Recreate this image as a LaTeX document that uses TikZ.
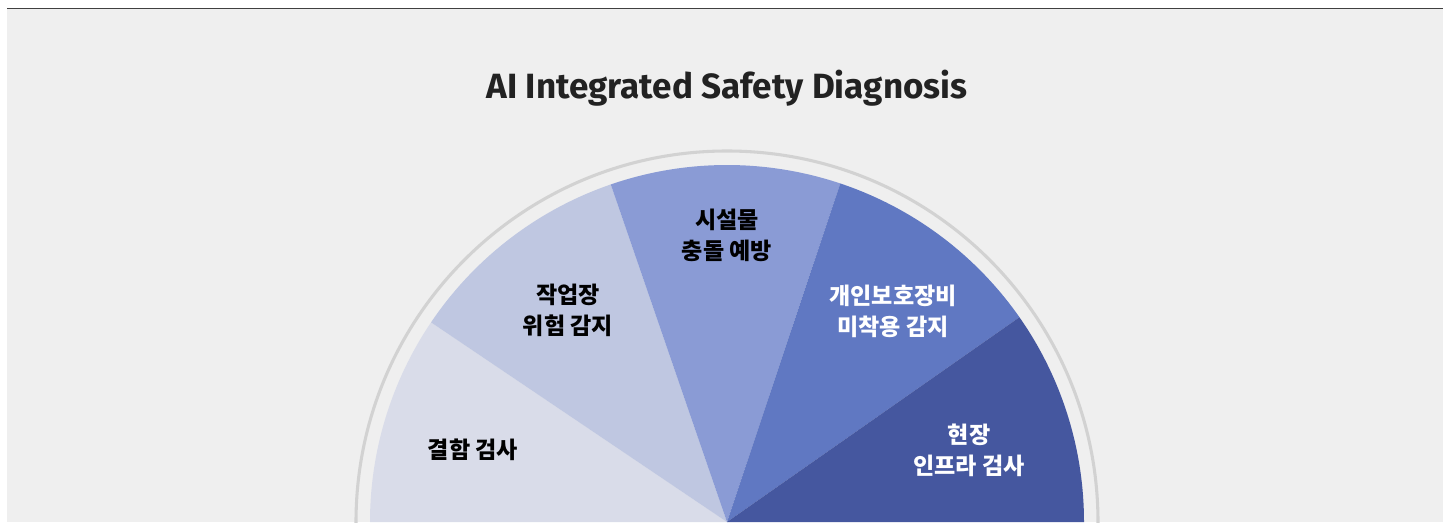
\documentclass[tikz,border=0pt]{standalone}
\usepackage{fontspec}
\setmainfont{Fira Sans}
\newfontfamily\kr{Noto Sans CJK KR}
\definecolor{bg}{HTML}{EFEFEF}
\definecolor{topline}{HTML}{404040}
\definecolor{ring}{HTML}{D2D2D2}
\definecolor{sA}{HTML}{D9DCE9}
\definecolor{sB}{HTML}{BFC7E1}
\definecolor{sC}{HTML}{8A9BD5}
\definecolor{sD}{HTML}{6078C2}
\definecolor{sE}{HTML}{45579F}
\definecolor{ttl}{HTML}{222222}
\tikzset{
  lbl/.style={font=\kr\bfseries\fontsize{17.3pt}{23.25pt}\selectfont, align=center, inner sep=0pt},
  dark/.style={lbl, text=black},
  light/.style={lbl, text=white},
}
\begin{document}
\begin{tikzpicture}[x=0.75pt,y=0.75pt]
\useasboundingbox (0,0) rectangle (1443,522);
\clip (0,0) rectangle (1443,522);
\fill[white] (0,0) rectangle (1443,522);
\fill[bg] (7,0) rectangle (1443,513.5);
\draw[topline, line width=1.2pt] (7,513.5) -- (1443,513.5);
\coordinate (c) at (727,0);
\draw[ring, line width=2.3pt] (c) circle[radius=371];
\fill[sA] (c) -- ++(180:357) arc[start angle=180, end angle=146, radius=357] -- cycle;
\fill[sB] (c) -- ++(146:357) arc[start angle=146, end angle=109, radius=357] -- cycle;
\fill[sC] (c) -- ++(109:357) arc[start angle=109, end angle=71.5, radius=357] -- cycle;
\fill[sD] (c) -- ++(71.5:357) arc[start angle=71.5, end angle=35, radius=357] -- cycle;
\fill[sE] (c) -- ++(35:357) arc[start angle=35, end angle=0, radius=357] -- cycle;
\node[font=\bfseries\fontsize{26.3pt}{30pt}\selectfont, text=ttl] (title) at (727,434) {AI Integrated Safety Diagnosis};
\node[dark] (l1) at (473,72) {결함 검사};
\node[dark] (l2) at (568,212) {작업장\\위험 감지};
\node[dark] (l3) at (727,287) {시설물\\충돌 예방};
\node[light] (l4) at (893,211) {개인보호장비\\미착용 감지};
\node[light] (l5) at (969,72) {현장\\인프라 검사};
\end{tikzpicture}
\end{document}
